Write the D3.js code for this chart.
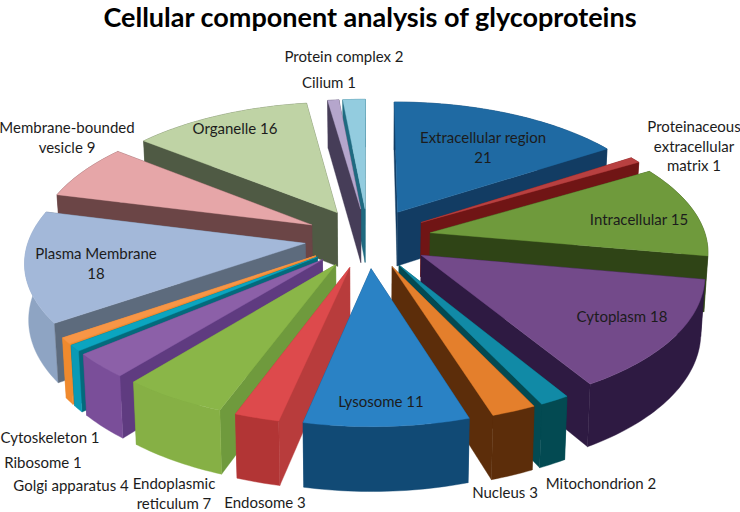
<!DOCTYPE html>
<html>
<head>
<meta charset="utf-8">
<script src="https://cdn.jsdelivr.net/npm/d3@7"></script>
<style>
  html, body { margin: 0; background: #fff; }
  text { font-family: Lato, "Open Sans", sans-serif; fill: #1c1c1c; }
</style>
</head>
<body>
<svg width="740" height="512"></svg>
<script>
// slices, clockwise from twelve o'clock
const categories = ["Extracellular region", "Proteinaceous extracellular matrix", "Intracellular", "Cytoplasm",
  "Mitochondrion", "Nucleus", "Lysosome", "Endosome", "Endoplasmic reticulum", "Golgi apparatus", "Ribosome",
  "Cytoskeleton", "Plasma Membrane", "Membrane-bounded vesicle", "Organelle", "Cilium", "Protein complex"];
const values = [21, 1, 15, 18, 2, 3, 11, 3, 7, 4, 1, 1, 18, 9, 16, 1, 2];

// colours: top face, radial wall, outer wall
const topColors = ["#1f6aa3", "#b84040", "#6f9a3c", "#734a8a", "#118aa6", "#e47f2c", "#2a82c5", "#dd4a4c", "#8ab648",
  "#8c60a8", "#0ba5c0", "#f79646", "#a3b8d9", "#e6a6a8", "#bfd3a5", "#b5a6cc", "#93ccdf"];
const sideColors = ["#123c63", "#701515", "#2f4416", "#2e1a42", "#034a52", "#5c2d0a", "#0f4a7a", "#b83c3c", "#6f9a3d",
  "#5f3b80", "#046a7c", "#f08a2e", "#5d6b7d", "#6b4546", "#4f5a44", "#463d58", "#1f6a80"];
const rimColors = ["#123c63", "#701515", "#2f4416", "#2e1a42", "#034a52", "#5c2d0a", "#114a75", "#b23535", "#86b045",
  "#7a4e99", "#0a9ab5", "#f08a2e", "#8ea4c3", "#6b4546", "#4f5a44", "#463d58", "#1f6a80"];

// text lines and anchor of each label, [lines, x, first baseline]
const labels = [
  [["Extracellular region", "21"], 483, 143],
  [["Proteinaceous", "extracellular", "matrix 1"], 694, 132],
  [["Intracellular 15"], 639, 225],
  [["Cytoplasm 18"], 622, 322],
  [["Mitochondrion 2"], 601, 489],
  [["Nucleus 3"], 505, 498],
  [["Lysosome 11"], 381, 407],
  [["Endosome 3"], 265, 508],
  [["Endoplasmic", "reticulum 7"], 174, 489],
  [["Golgi apparatus 4"], 71, 491],
  [["Ribosome 1"], 43, 468],
  [["Cytoskeleton 1"], 50, 443],
  [["Plasma Membrane", "18"], 96, 259],
  [["Membrane-bounded", "vesicle 9"], 67, 133],
  [["Organelle 16"], 235, 134],
  [["Cilium 1"], 329, 88],
  [["Protein complex 2"], 344, 62]
];

const cx = 368, cy = 238, rx = 276, ry = 130;
const persp = 0.124, explode = 0.23, depth = 55, shrink = 0.988;

const svg = d3.select("svg");

// disk coordinates (u right, v away from viewer) to screen
function project(u, v, bottom) {
  const s = 1 / (1 + persp * v);
  const x = cx + rx * u * s;
  const y = cy - ry * v * s;
  if (!bottom) return [x, y];
  return [cx + (x - cx) * shrink, y + depth * s];
}

const pie = d3.pie().sort(null).value(d => d);
const line = d3.line();

const arcs = pie(values).map((d, i) => {
  const mid = (d.startAngle + d.endAngle) / 2;
  return { i, mid, start: d.startAngle, end: d.endAngle, ox: explode * Math.sin(mid), oy: explode * Math.cos(mid) };
});

function rimPoints(a, bottom) {
  const n = Math.max(2, Math.ceil((a.end - a.start) / 0.02));
  return d3.range(n + 1).map(k => {
    const t = a.start + (a.end - a.start) * k / n;
    return project(a.ox + Math.sin(t), a.oy + Math.cos(t), bottom);
  });
}

// far slices first so the nearer ones cover them
arcs.sort((a, b) => d3.descending(Math.cos(a.mid), Math.cos(b.mid)));

arcs.forEach(a => {
  const g = svg.append("g");
  const apexTop = project(a.ox, a.oy, false);
  const apexBot = project(a.ox, a.oy, true);
  const top = rimPoints(a, false);
  const bot = rimPoints(a, true);

  const startWall = [apexTop, top[0], bot[0], apexBot];
  const endWall = [apexTop, top[top.length - 1], bot[bot.length - 1], apexBot];
  const outerWall = top.concat(bot.slice().reverse());

  const walls = [
    { pts: startWall, fill: sideColors[a.i] },
    { pts: endWall, fill: sideColors[a.i] },
    { pts: outerWall, fill: rimColors[a.i] }
  ];
  walls.sort((p, q) => d3.mean(p.pts, d => d[1]) - d3.mean(q.pts, d => d[1]));
  walls.forEach(w => {
    g.append("path").attr("d", line(w.pts) + "Z").attr("fill", w.fill).attr("stroke", w.fill).attr("stroke-width", 0.4);
  });

  g.append("path")
    .attr("d", line([apexTop].concat(top)) + "Z")
    .attr("fill", topColors[a.i])
    .attr("stroke", topColors[a.i])
    .attr("stroke-width", 0.4);
});

labels.forEach(([lines, x, y]) => {
  const t = svg.append("text").attr("text-anchor", "middle").attr("font-size", 15);
  lines.forEach((s, k) => t.append("tspan").attr("x", x).attr("y", y + k * 19.5).text(s));
});

svg.append("text")
  .attr("x", 370)
  .attr("y", 27)
  .attr("text-anchor", "middle")
  .attr("font-size", 27)
  .attr("font-weight", 700)
  .style("fill", "#000")
  .text("Cellular component analysis of glycoproteins");
</script>
</body>
</html>
